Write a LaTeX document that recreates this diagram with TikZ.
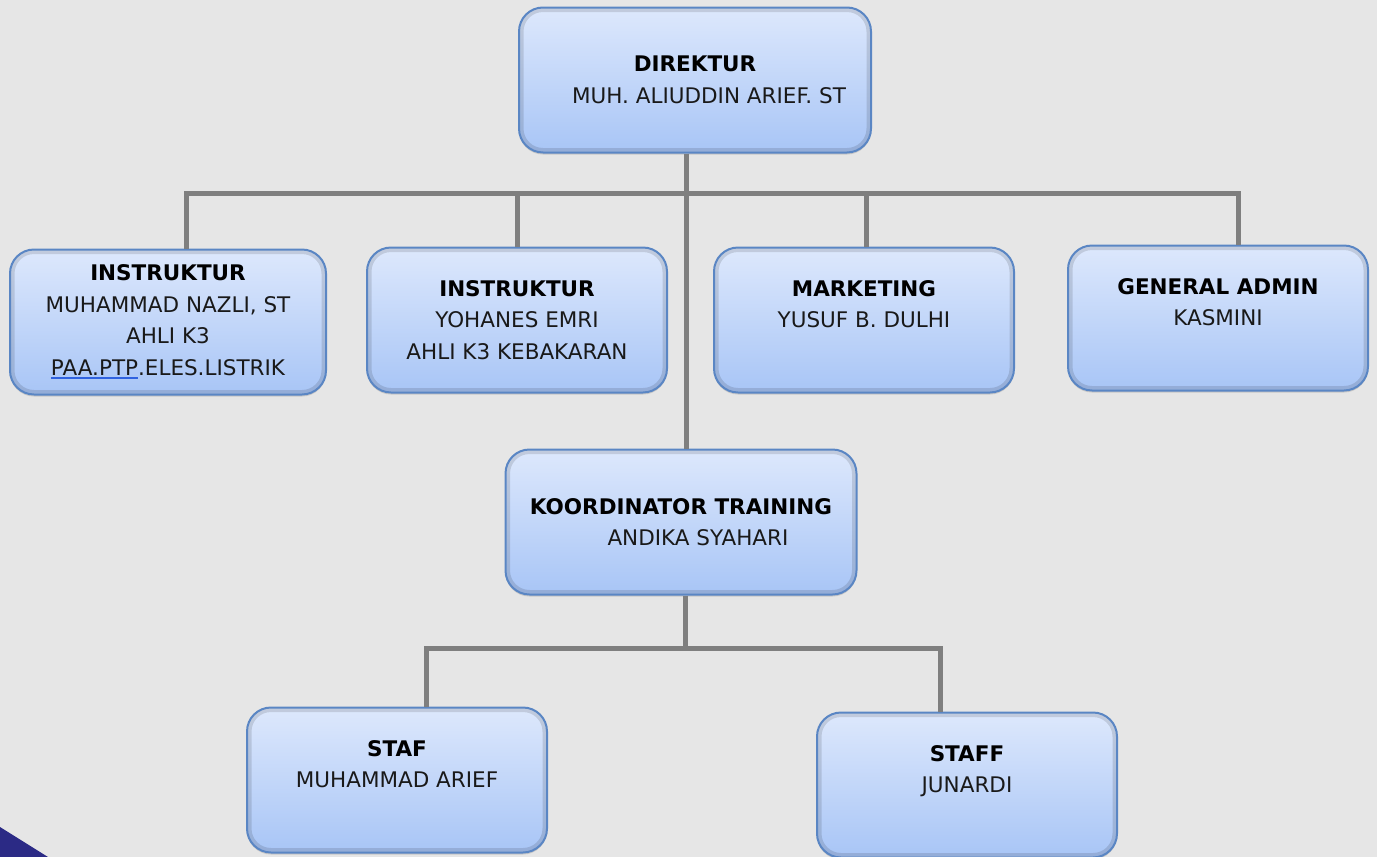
\documentclass[tikz,border=0pt]{standalone}
\usepackage{fontspec}
\setmainfont{DejaVu Sans}
\usetikzlibrary{shadows}

\definecolor{bgc}{HTML}{E6E6E6}
\definecolor{boxtop}{HTML}{DDE8FC}
\definecolor{boxbot}{HTML}{A8C5F6}
\definecolor{boxline}{HTML}{5A86C4}
\definecolor{linkc}{HTML}{7F7F7F}
\definecolor{cornerc}{HTML}{2B2A85}
\definecolor{ulc}{HTML}{2F62E0}

\newcommand\ttl[1]{\textbf{\color{black}#1}}
\newcommand\blueul[1]{\setbox0\hbox{#1}\rlap{\textcolor{ulc}{\rule[-3.5pt]{\wd0}{1.6pt}}}\box0}

\tikzstyle{box} = [rounded corners=24pt, draw=boxline, line width=2pt, top color=boxtop, bottom color=boxbot,
    minimum width=300pt, minimum height=145pt, align=center, text=black!90,
    font=\fontsize{21.5}{31.5}\selectfont, drop shadow={opacity=0.3, shadow xshift=0pt, shadow yshift=-2pt},
    path picture={\draw[black, opacity=0.12, line width=9pt, rounded corners=24pt]
        (path picture bounding box.south west) rectangle (path picture bounding box.north east);}]
\tikzstyle{link} = [draw=linkc, line width=5pt]

\begin{document}
\begin{tikzpicture}[x=1pt, y=-1pt]

    \useasboundingbox (0,0) rectangle (1377,857);
    \fill[bgc] (0,0) rectangle (1377,857);
    \fill[cornerc] (0,827) -- (48,857) -- (0,857) -- cycle;

\coordinate (bus) at (686,193);
\coordinate (bus2) at (685,648);

\node[box, minimum width=352pt] (dir) at (695,80) {\ttl{DIREKTUR}\\\hspace*{28pt}MUH. ALIUDDIN ARIEF. ST};
\node[box, minimum width=316pt] (ins1) at (168,322) {\ttl{INSTRUKTUR}\\MUHAMMAD NAZLI, ST\\AHLI K3\\\blueul{PAA.PTP}.ELES.LISTRIK};
\node[box] (ins2) at (517,320) {\ttl{INSTRUKTUR}\\YOHANES EMRI\\AHLI K3 KEBAKARAN};
\node[box] (mkt) at (864,320) {\ttl{MARKETING}\\YUSUF B. DULHI\\\mbox{}};
\node[box] (gadm) at (1218,318) {\ttl{GENERAL ADMIN}\\KASMINI\\\mbox{}};
\node[box, minimum width=351pt] (kord) at (681,522) {\ttl{KOORDINATOR TRAINING}\\\hspace*{34pt}ANDIKA SYAHARI};
\node[box] (staf1) at (397,780) {\ttl{STAF}\\MUHAMMAD ARIEF\\\mbox{}};
\node[box] (staf2) at (967,785) {\ttl{STAFF}\\JUNARDI\\\mbox{}};

\coordinate (t1) at ([xshift=18pt]ins1.north);
\coordinate (t4) at ([xshift=20pt]gadm.north);
\coordinate (s1) at ([xshift=29pt]staf1.north);
\coordinate (s2) at ([xshift=-27pt]staf2.north);

    % upper level
    \draw[link] (dir.south -| bus) -- (kord.north -| bus);
    \draw[link] (t1) -- (t1 |- bus) -- (t4 |- bus) -- (t4);
    \draw[link] (ins2.north) -- (ins2.north |- bus);
    \draw[link] ([xshift=2pt]mkt.north) -- ([xshift=2pt]mkt.north |- bus);
    % lower level
    \draw[link] (kord.south -| bus2) -- (bus2);
    \draw[link] (s1) -- (s1 |- bus2) -- (s2 |- bus2) -- (s2);

\end{tikzpicture}
\end{document}
